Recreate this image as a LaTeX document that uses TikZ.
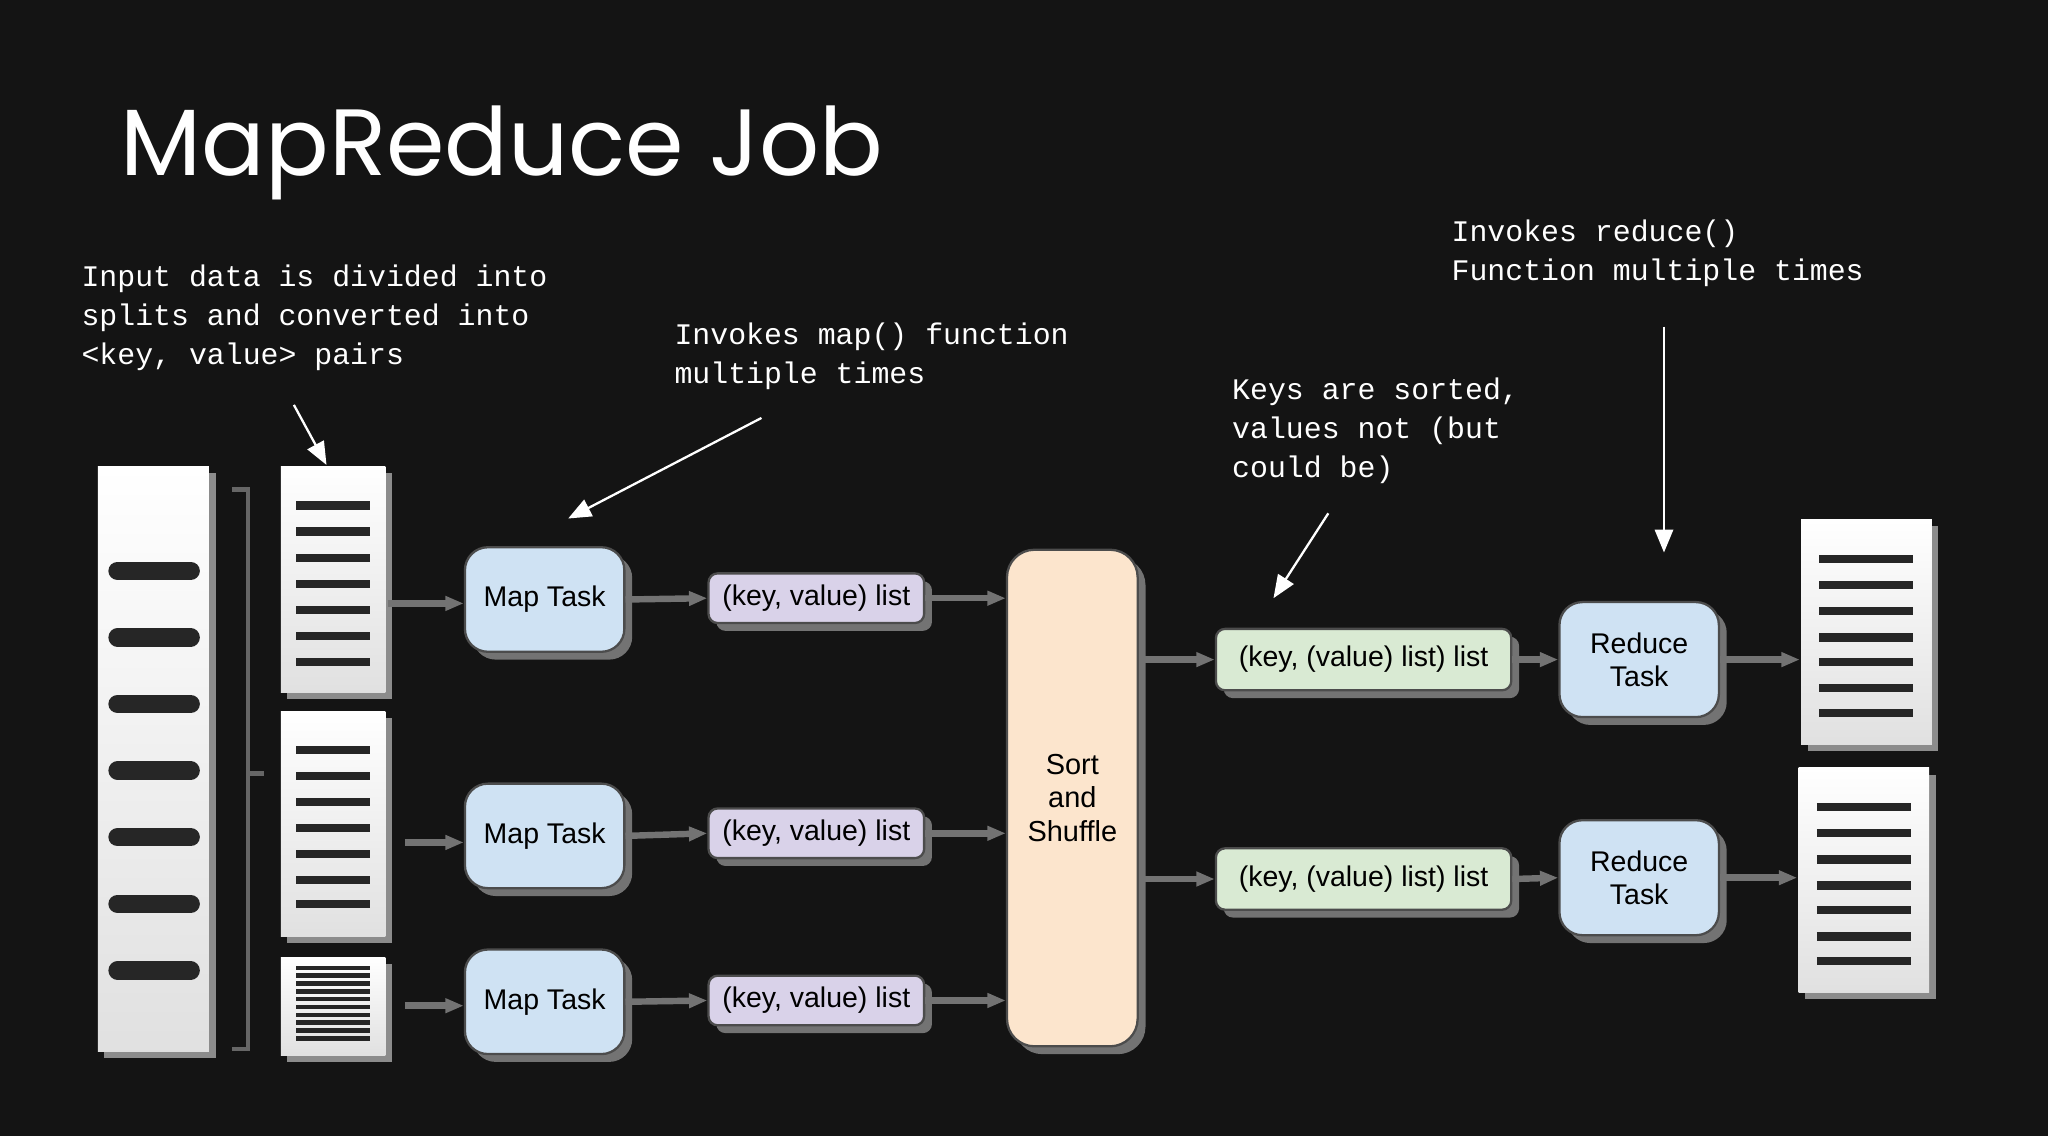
\documentclass[tikz,border=0pt]{standalone}
\usepackage{fontspec}
\setmainfont{Liberation Sans}
\newfontfamily\titlef{Poppins}
\newfontfamily\handf{Liberation Mono}
\usetikzlibrary{arrows.meta,shadows}
\definecolor{taskc}{HTML}{CFE2F3}
\definecolor{kvc}{HTML}{D9D2E9}
\definecolor{kkvc}{HTML}{D9EAD3}
\definecolor{ssc}{HTML}{FCE5CD}
\begin{document}
\begin{tikzpicture}[x=0.01cm,y=-0.01cm,
  box/.style={draw=black!70,line width=0.5pt,rounded corners=2pt,
     drop shadow={shadow xshift=0.06cm,shadow yshift=-0.06cm,fill=black!55,opacity=1},
     align=center,font=\fontsize{6.2}{7}\selectfont,inner sep=0pt},
  task/.style={box,fill=taskc,minimum width=1.22cm,minimum height=0.8cm,rounded corners=5pt},
  kv/.style={box,fill=kvc,minimum width=1.65cm,minimum height=0.38cm},
  kkv/.style={box,fill=kkvc,minimum width=2.26cm,minimum height=0.47cm},
  doc/.style={draw=none,top color=white,bottom color=black!12,
     drop shadow={shadow xshift=0.05cm,shadow yshift=-0.05cm,fill=black!45,opacity=1}},
  flow/.style={-{Triangle[length=4pt,width=3pt]},draw=black!55,line width=1.4pt},
  note/.style={white,line width=0.5pt,-{Triangle[length=5pt,width=4pt]}},
  hand/.style={white,anchor=west,align=left,font=\handf\fontsize{6.5}{8.5}\selectfont},
  ln/.style={line width=1.8pt,black!85}]
\fill[black!92] (0,0) rectangle (1568,870);
\node[white,anchor=west,font=\titlef\fontsize{20.5}{25}\selectfont] (title) at (80,117) {MapReduce Job};
% big input doc
\path[doc] (75,357) rectangle (160,805);
\foreach \y in {437,488,539,590,641,692,743}
  \draw[line width=4pt,black!85,line cap=round] (90,\y) -- (146,\y);
% bracket
\draw[black!60,line width=1pt] (178,375) -- (190,375) -- (190,803) -- (178,803);
\draw[black!60,line width=1pt] (190,592) -- (202,592);
% split docs
\path[doc] (215,357) rectangle (295,530);
\foreach \y in {387,407,427,447,467,487,507} \draw[ln] (227,\y) -- (283,\y);
\path[doc] (215,545) rectangle (295,717);
\foreach \y in {574,594,614,634,654,674,692} \draw[ln] (227,\y) -- (283,\y);
\path[doc] (215,733) rectangle (295,808);
\foreach \y in {741,747,753,759,765,771,777,783,789,795} \draw[line width=1pt,black!85] (227,\y) -- (283,\y);
\coordinate (s1) at (297,462); \coordinate (s2) at (310,645); \coordinate (s3) at (310,770);
% map tasks
\node[task] (m1) at (417,459) {Map Task};
\node[task] (m2) at (417,640) {Map Task};
\node[task] (m3) at (417,767) {Map Task};
\node[kv] (k1) at (625,458) {(key, value) list};
\node[kv] (k2) at (625,638) {(key, value) list};
\node[kv] (k3) at (625,766) {(key, value) list};
\node[box,fill=ssc,minimum width=1cm,minimum height=3.8cm,rounded corners=6pt,
  font=\fontsize{6.3}{7.3}\selectfont] (ss) at (821,611) {Sort\\and\\Shuffle};
\node[kkv] (r1) at (1044,505) {(key, (value) list) list};
\node[kkv] (r2) at (1044,673) {(key, (value) list) list};
\node[task,minimum height=0.88cm,font=\fontsize{6.2}{7.3}\selectfont] (t1) at (1255,505) {Reduce\\Task};
\node[task,minimum height=0.88cm,font=\fontsize{6.2}{7.3}\selectfont] (t2) at (1255,672) {Reduce\\Task};
% outputs
\path[doc] (1379,398) rectangle (1479,570);
\foreach \y in {428,448,468,488,507,527,546} \draw[ln] (1393,\y) -- (1465,\y);
\path[doc] (1377,588) rectangle (1477,760);
\foreach \y in {618,638,658,678,697,717,736} \draw[ln] (1391,\y) -- (1463,\y);
\coordinate (o1) at (1378,505); \coordinate (o2) at (1376,672);
% flows
\draw[flow] (s1) -- (m1.west |- s1);
\draw[flow] (s2) -- (m2.west |- s2);
\draw[flow] (s3) -- (m3.west |- s3);
\draw[flow] (m1.east) -- (k1.west);
\draw[flow] (m2.east) -- (k2.west);
\draw[flow] (m3.east) -- (k3.west);
\draw[flow] (k1.east) -- (ss.west |- k1.east);
\draw[flow] (k2.east) -- (ss.west |- k2.east);
\draw[flow] (k3.east) -- (ss.west |- k3.east);
\draw[flow] (ss.east |- r1.west) -- (r1.west);
\draw[flow] (ss.east |- r2.west) -- (r2.west);
\draw[flow] (r1.east) -- (t1.west);
\draw[flow] (r2.east) -- (t2.west);
\draw[flow] (t1.east) -- (o1);
\draw[flow] (t2.east) -- (o2);
% notes
\node[hand] (n1) at (50,243) {Input data is divided into\\splits and converted into\\<key, value> pairs};
\node[hand] (n2) at (504,273) {Invokes map() function\\multiple times};
\node[hand] (n3) at (931,330) {Keys are sorted,\\values not (but\\could be)};
\node[hand] (n4) at (1099,194) {Invokes reduce()\\Function multiple times};
\coordinate (a1) at (225,310); \coordinate (b1) at (250,356);
\coordinate (a2) at (583,320); \coordinate (b2) at (435,397);
\coordinate (a3) at (1017,393); \coordinate (b3) at (975,458);
\coordinate (a4) at (1274,250); \coordinate (b4) at (1274,423);
\draw[note] (a1) -- (b1); \draw[note] (a2) -- (b2);
\draw[note] (a3) -- (b3); \draw[note] (a4) -- (b4);
\end{tikzpicture}
\end{document}
